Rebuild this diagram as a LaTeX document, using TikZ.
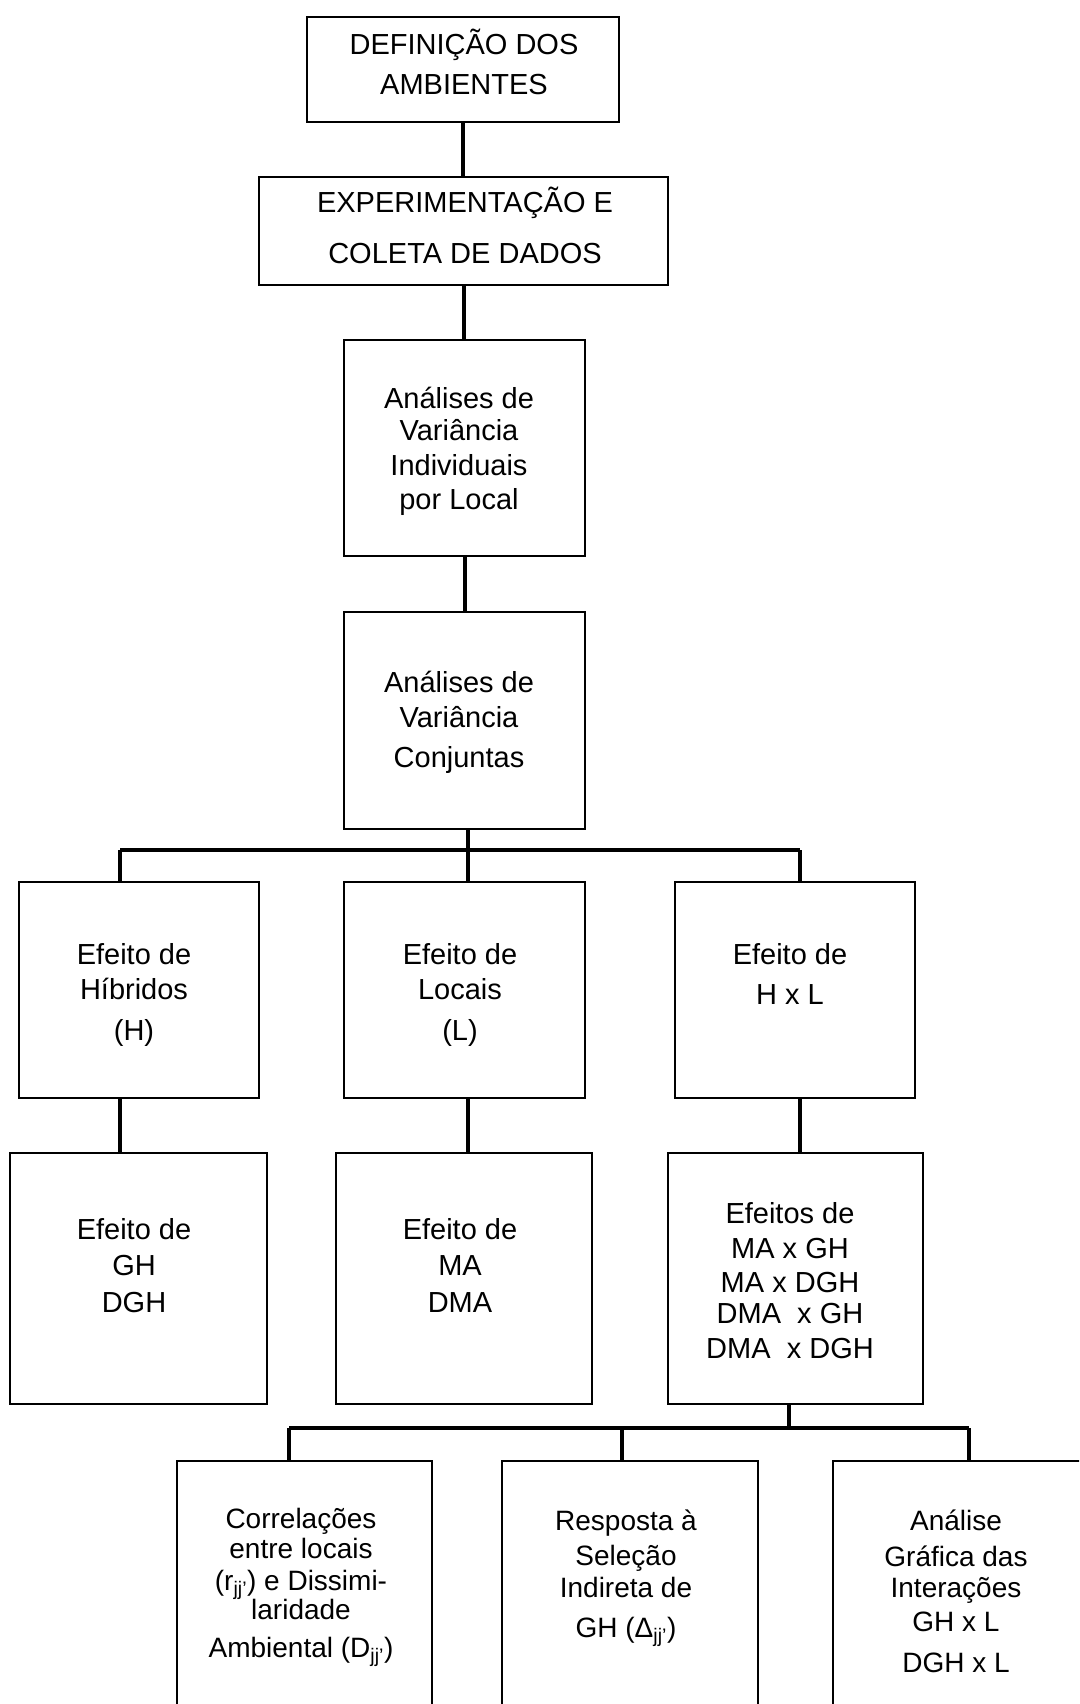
\documentclass[tikz,border=0pt]{standalone}
\usepackage{fontspec}
\setmainfont{Liberation Sans}
\begin{document}
\begin{tikzpicture}[x=1pt,y=-1pt,
  box/.style={draw, line width=2.6pt, rectangle, inner sep=0pt, outer sep=0pt},
  txt/.style={anchor=base, inner sep=0pt, font=\fontsize{29}{34}\selectfont},
  smalltxt/.style={anchor=base, inner sep=0pt, font=\fontsize{28}{32}\selectfont},
  conn/.style={line width=4pt}]
\useasboundingbox (0,0) rectangle (1079,1704);
\clip (0,0) rectangle (1079,1704);
% boxes
\node[box, minimum width=312pt, minimum height=105pt] (b1) at (463,69.5) {};
\node[box, minimum width=409pt, minimum height=108pt] (b2) at (463.5,231) {};
\node[box, minimum width=241pt, minimum height=216pt] (b3) at (464.5,448) {};
\node[box, minimum width=241pt, minimum height=217pt] (b4) at (464.5,720.5) {};
\node[box, minimum width=240pt, minimum height=216pt] (a1) at (139,990) {};
\node[box, minimum width=241pt, minimum height=216pt] (a2) at (464.5,990) {};
\node[box, minimum width=240pt, minimum height=216pt] (a3) at (795,990) {};
\node[box, minimum width=257pt, minimum height=251pt] (c1) at (138.5,1278.5) {};
\node[box, minimum width=256pt, minimum height=251pt] (c2) at (464,1278.5) {};
\node[box, minimum width=255pt, minimum height=251pt] (c3) at (795.5,1278.5) {};
\node[box, minimum width=255pt, minimum height=300pt] (d1) at (304.5,1611) {};
\node[box, minimum width=256pt, minimum height=300pt] (d2) at (630,1611) {};
\node[box, minimum width=267pt, minimum height=300pt] (d3) at (966.5,1611) {};
% junction coordinates
\coordinate (j0) at (468,850);
\coordinate (jl) at (120,850);
\coordinate (jr) at (800,850);
\coordinate (k0) at (789,1428);
\coordinate (kl) at (289,1428);
\coordinate (km) at (621.5,1428);
\coordinate (kr) at (969,1428);
% connectors
\draw[conn] (b1.south) -- (b1.south |- b2.north);
\draw[conn] (b2.south) -- (b2.south |- b3.north);
\draw[conn] (b3.south) -- (b3.south |- b4.north);
\draw[conn] (j0 |- b4.south) -- (j0);
\draw[conn] (jl) -- (jr);
\draw[conn] (jl) -- (jl |- a1.north);
\draw[conn] (j0) -- (j0 |- a2.north);
\draw[conn] (jr) -- (jr |- a3.north);
\draw[conn] (jl |- a1.south) -- (jl |- c1.north);
\draw[conn] (j0 |- a2.south) -- (j0 |- c2.north);
\draw[conn] (jr |- a3.south) -- (jr |- c3.north);
\draw[conn] (k0 |- c3.south) -- (k0);
\draw[conn] (kl) -- (kr);
\draw[conn] (kl) -- (kl |- d1.north);
\draw[conn] (km) -- (km |- d2.north);
\draw[conn] (kr) -- (kr |- d3.north);
% texts
\node[txt] (t11) at (464,55) {DEFINIÇÃO DOS};
\node[txt] (t12) at (464,95) {AMBIENTES};
\node[txt] (t21) at (465,213) {EXPERIMENTAÇÃO E};
\node[txt] (t22) at (465,263) {COLETA DE DADOS};
\node[txt] (t31) at (459,408) {Análises de};
\node[txt] (t32) at (459,440.5) {Variância};
\node[txt] (t33) at (459,475) {Individuais};
\node[txt] (t34) at (459,509) {por Local};
\node[txt] (t41) at (459,692) {Análises de};
\node[txt] (t42) at (459,727) {Variância};
\node[txt] (t43) at (459,767) {Conjuntas};
\node[txt] (ta11) at (134,964) {Efeito de};
\node[txt] (ta12) at (134,999.6) {Híbridos};
\node[txt] (ta13) at (134,1040.5) {(H)};
\node[txt] (ta21) at (460,964) {Efeito de};
\node[txt] (ta22) at (460,999.6) {Locais};
\node[txt] (ta23) at (460,1040.5) {(L)};
\node[txt] (ta31) at (790,964) {Efeito de};
\node[txt] (ta32) at (790,1004) {H x L};
\node[txt] (tc11) at (134,1239) {Efeito de};
\node[txt] (tc12) at (134,1275) {GH};
\node[txt] (tc13) at (134,1312) {DGH};
\node[txt] (tc21) at (460,1239) {Efeito de};
\node[txt] (tc22) at (460,1275) {MA};
\node[txt] (tc23) at (460,1312) {DMA};
\node[txt] (tc31) at (790,1223) {Efeitos de};
\node[txt] (tc32) at (790,1258) {MA x GH};
\node[txt] (tc33) at (790,1292) {MA x DGH};
\node[txt] (tc34) at (790,1323) {DMA~ x GH};
\node[txt] (tc35) at (790,1358) {DMA~ x DGH};
\node[smalltxt] (td11) at (301,1528) {Correlações};
\node[smalltxt] (td12) at (301,1558) {entre locais};
\node[smalltxt] (td13) at (301,1590) {(r\textsubscript{jj'}) e Dissimi-};
\node[smalltxt] (td14) at (301,1619) {laridade};
\node[smalltxt] (td15) at (301,1657) {Ambiental (D\textsubscript{jj'})};
\node[smalltxt] (td21) at (626,1530) {Resposta à};
\node[smalltxt] (td22) at (626,1565) {Seleção};
\node[smalltxt] (td23) at (626,1597) {Indireta de};
\node[smalltxt] (td24) at (626,1637) {GH (Δ\textsubscript{jj'})};
\node[smalltxt] (td31) at (956,1530) {Análise};
\node[smalltxt] (td32) at (956,1566) {Gráfica das};
\node[smalltxt] (td33) at (956,1597) {Interações};
\node[smalltxt] (td34) at (956,1631) {GH x L};
\node[smalltxt] (td35) at (956,1672) {DGH x L};
\end{tikzpicture}
\end{document}
